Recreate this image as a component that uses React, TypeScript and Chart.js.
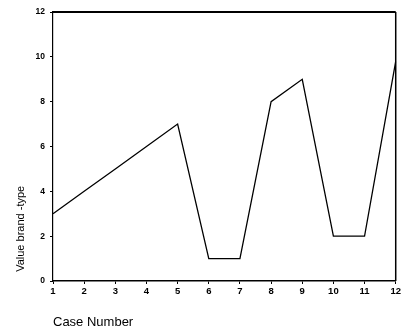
import React, { useEffect, useRef } from "react";
import { Chart, registerables } from "chart.js";

Chart.register(...registerables);

const caseNumbers = ["1", "2", "3", "4", "5", "6", "7", "8", "9", "10", "11", "12"];
const brandValues = [3, 4, 5, 6, 7, 1, 1, 8, 9, 2, 2, 9.8];
const yTickValues = [0, 2, 4, 6, 8, 10, 12];

const FONT = "'Liberation Sans', Arial, sans-serif";

const boxPlugin = {
  id: "boxPlugin",
  afterDatasetsDraw(chart: any) {
    const { ctx, chartArea } = chart;
    ctx.save();
    ctx.strokeStyle = "#000";
    ctx.lineWidth = 2;
    ctx.beginPath();
    ctx.moveTo(chartArea.left, chartArea.top);
    ctx.lineTo(chartArea.right, chartArea.top);
    ctx.stroke();
    ctx.lineWidth = 1.5;
    ctx.beginPath();
    ctx.moveTo(chartArea.right, chartArea.top);
    ctx.lineTo(chartArea.right, chartArea.bottom);
    ctx.stroke();
    ctx.restore();
  },
};

export default function App() {
  const ref = useRef<HTMLCanvasElement>(null);
  useEffect(() => {
    document.body.style.margin = "0";
    const chart = new Chart(ref.current!, {
      type: "line",
      data: {
        labels: caseNumbers,
        datasets: [
          {
            data: brandValues,
            borderColor: "#000",
            borderWidth: 1.3,
            pointRadius: 0,
            tension: 0,
            fill: false,
          },
        ],
      },
      options: {
        animation: false,
        responsive: false,
        maintainAspectRatio: false,
        layout: { padding: { top: 12, right: 5, left: 0, bottom: 0 } },
        plugins: { legend: { display: false }, tooltip: { enabled: false } },
        scales: {
          x: {
            type: "category",
            offset: false,
            grid: { drawOnChartArea: false, drawTicks: true, tickLength: 3, color: "#000" },
            border: { display: true, color: "#000", width: 1.5 },
            ticks: {
              color: "#000",
              font: { family: FONT, size: 9.5, weight: "bold" },
              padding: 2,
              maxRotation: 0,
              autoSkip: false,
            },
            title: {
              display: true,
              text: "Case Number",
              align: "start",
              color: "#000",
              font: { family: FONT, size: 13 },
              padding: { top: 0, bottom: 6 },
            },
            afterFit(scale: any) {
              scale.height = 55;
            },
          },
          y: {
            min: 0,
            max: 12,
            afterBuildTicks(scale: any) {
              scale.ticks = yTickValues.map((v) => ({ value: v }));
            },
            grid: { drawOnChartArea: false, drawTicks: true, tickLength: 3, color: "#000" },
            border: { display: true, color: "#000", width: 1.2 },
            ticks: {
              color: "#000",
              font: { family: FONT, size: 8.5, weight: "bold" },
              padding: 5,
            },
            title: {
              display: true,
              text: "   Value brand -type",
              align: "start",
              color: "#000",
              font: { family: FONT, size: 11 },
              padding: { top: 14, bottom: 0 },
            },
            afterFit(scale: any) {
              scale.width = 53;
            },
          },
        },
      },
      plugins: [boxPlugin],
    });
    return () => chart.destroy();
  }, []);
  return (
    <div style={{ width: 403, height: 336 }}>
      <canvas ref={ref} width={403} height={336} style={{ display: "block" }} />
    </div>
  );
}
